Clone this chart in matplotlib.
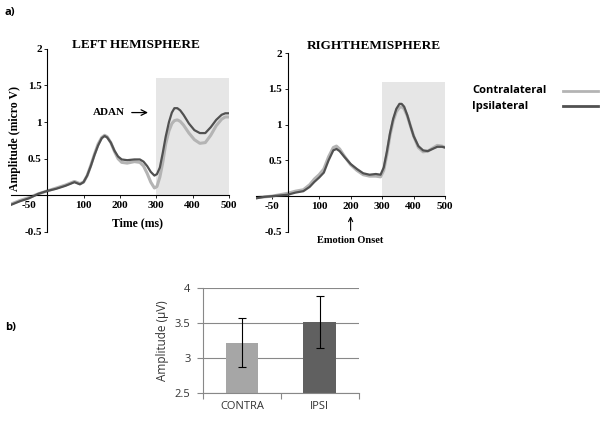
import matplotlib
matplotlib.use('Agg')
import matplotlib.pyplot as plt
from matplotlib.patches import Rectangle

# ERP data, left hemisphere
left_t = [-100, -75, -50, -25, 0, 25, 50, 75, 90, 100, 110, 120, 130, 140, 150, 158, 165, 175, 185, 195,
          205, 220, 240, 255, 265, 275, 285, 295, 302, 310, 318, 326, 335, 343, 350, 358, 366, 375, 390,
          405, 420, 435, 450, 465, 480, 490, 500]
left_ipsi = [-0.13, -0.08, -0.04, 0.02, 0.06, 0.09, 0.13, 0.18, 0.15, 0.18, 0.27, 0.40, 0.55, 0.68, 0.78,
             0.81, 0.79, 0.72, 0.61, 0.53, 0.49, 0.48, 0.49, 0.49, 0.46, 0.40, 0.32, 0.27, 0.29, 0.38, 0.58,
             0.80, 1.00, 1.13, 1.19, 1.19, 1.16, 1.10, 0.98, 0.89, 0.85, 0.85, 0.93, 1.03, 1.10, 1.12, 1.12]
left_contra = [-0.12, -0.07, -0.03, 0.02, 0.06, 0.10, 0.14, 0.19, 0.16, 0.18, 0.27, 0.41, 0.56, 0.70, 0.79,
               0.82, 0.80, 0.72, 0.60, 0.50, 0.45, 0.44, 0.46, 0.45, 0.40, 0.30, 0.18, 0.10, 0.12, 0.25, 0.45,
               0.70, 0.88, 0.98, 1.02, 1.03, 1.01, 0.96, 0.85, 0.76, 0.71, 0.72, 0.82, 0.95, 1.04, 1.07, 1.07]

# ERP data, right hemisphere
right_t = [-100, -75, -50, -25, 0, 25, 50, 70, 85, 100, 115, 130, 145, 155, 165, 180, 200, 220, 240, 260,
           280, 295, 305, 315, 325, 335, 345, 355, 362, 370, 380, 390, 400, 415, 430, 445, 460, 475, 490, 500]
right_ipsi = [-0.03, -0.01, 0.0, 0.01, 0.02, 0.05, 0.07, 0.13, 0.20, 0.26, 0.33, 0.50, 0.64, 0.66, 0.63,
              0.55, 0.45, 0.38, 0.32, 0.30, 0.31, 0.30, 0.40, 0.62, 0.88, 1.08, 1.22, 1.29, 1.29, 1.25,
              1.13, 0.98, 0.84, 0.70, 0.64, 0.63, 0.66, 0.69, 0.69, 0.68]
right_contra = [-0.02, -0.01, 0.0, 0.02, 0.04, 0.07, 0.09, 0.16, 0.24, 0.30, 0.38, 0.55, 0.68, 0.70, 0.66,
                0.56, 0.44, 0.36, 0.30, 0.28, 0.28, 0.27, 0.36, 0.58, 0.85, 1.05, 1.18, 1.24, 1.25, 1.22,
                1.12, 0.98, 0.84, 0.68, 0.62, 0.63, 0.67, 0.71, 0.70, 0.68]

x_ticks = [-50, 100, 200, 300, 400, 500]
y_ticks = [-0.5, 0.5, 1, 1.5, 2]
y_labels = ['-0.5', '0.5', '1', '1.5', '2']

# bar chart data
bar_names = ['CONTRA', 'IPSI']
bar_values = [3.22, 3.515]
bar_errors = [0.35, 0.37]

c_light = '#b4b4b4'
c_dark = '#515151'
serif = 'Liberation Serif'
sans = 'Open Sans'

fig = plt.figure(figsize=(6.04, 4.21), dpi=100)


def erp_panel(rect, t, contra, ipsi, title, title_x, title_y):
    ax = fig.add_axes(rect)
    ax.add_patch(Rectangle((300, 0), 200, 1.6, color='#e6e6e6', zorder=0, lw=0))
    ax.plot(t, contra, color=c_light, lw=2.2, zorder=2)
    ax.plot(t, ipsi, color=c_dark, lw=1.6, zorder=3)
    ax.set_xlim(-100, 500)
    ax.set_ylim(-0.5, 2)
    for s in ['top', 'right']:
        ax.spines[s].set_visible(False)
    ax.spines['left'].set_position(('data', 0))
    ax.spines['bottom'].set_position(('data', 0))
    ax.spines['left'].set_linewidth(0.8)
    ax.spines['bottom'].set_linewidth(0.8)
    ax.set_xticks(x_ticks)
    ax.set_xticklabels([str(v) for v in x_ticks], fontfamily=serif, fontweight='bold', fontsize=8)
    ax.set_yticks(y_ticks)
    ax.set_yticklabels(y_labels, fontfamily=serif, fontweight='bold', fontsize=8)
    ax.tick_params(axis='both', length=2, width=0.6, pad=2)
    ax.text(title_x, title_y, title, fontfamily=serif, fontweight='bold', fontsize=9.5,
            ha='center', va='center', clip_on=False)
    return ax


ax1 = erp_panel([0.018, 0.449, 0.361, 0.435], left_t, left_contra, left_ipsi,
                'LEFT HEMISPHERE', 245, 2.05)
ax1.annotate('', xy=(285, 1.13), xytext=(225, 1.13),
             arrowprops=dict(arrowstyle='->', color='black', lw=0.9))
ax1.text(170, 1.13, 'ADAN', fontfamily=serif, fontweight='bold', fontsize=8, ha='center', va='center')

ax2 = erp_panel([0.424, 0.449, 0.313, 0.425], right_t, right_contra, right_ipsi,
                'RIGHTHEMISPHERE', 272, 2.1)
ax2.annotate('Emotion Onset', xy=(200, -0.28), xytext=(200, -0.62),
             ha='center', va='center', fontfamily=serif, fontweight='bold', fontsize=7.5,
             arrowprops=dict(arrowstyle='->', color='black', lw=0.8, shrinkA=2, shrinkB=0),
             annotation_clip=False)

fig.text(0.025, 0.67, 'Amplitude (micro V)', rotation=90, ha='center', va='center',
         fontfamily=serif, fontweight='bold', fontsize=8.5)
fig.text(0.228, 0.47, 'Time (ms)', ha='center', va='center',
         fontfamily=serif, fontweight='bold', fontsize=8.5)

# legend
fig.text(0.782, 0.785, 'Contralateral', fontfamily=sans, fontweight='bold', fontsize=8, va='center')
fig.text(0.782, 0.748, 'Ipsilateral', fontfamily=sans, fontweight='bold', fontsize=8, va='center')
fig.lines.append(plt.Line2D([0.932, 0.99], [0.785, 0.785], color=c_light, lw=2, transform=fig.transFigure))
fig.lines.append(plt.Line2D([0.932, 0.99], [0.748, 0.748], color=c_dark, lw=2, transform=fig.transFigure))

fig.text(0.008, 0.97, 'a)', fontfamily=sans, fontweight='bold', fontsize=8, va='center')
fig.text(0.008, 0.222, 'b)', fontfamily=sans, fontweight='bold', fontsize=8, va='center')

# bar chart
ax3 = fig.add_axes([0.336, 0.0665, 0.258, 0.2495])
pos = [0.5, 1.5]
ax3.bar(pos, bar_values, width=0.42, color=['#a6a6a6', '#606060'], zorder=2)
ax3.errorbar(pos, bar_values, yerr=bar_errors, fmt='none', ecolor='black', elinewidth=0.8,
             capsize=3, capthick=0.8, zorder=3)
ax3.set_xlim(0, 2)
ax3.set_ylim(2.5, 4)
ax3.set_yticks([2.5, 3, 3.5, 4])
ax3.set_yticklabels(['2.5', '3', '3.5', '4'], fontfamily=sans, fontsize=8, color='#333333')
ax3.set_xticks([0, 1, 2])
ax3.set_xticklabels(['', '', ''])
ax3.set_xticks(pos, minor=True)
ax3.set_xticklabels(bar_names, minor=True, fontfamily=sans, fontsize=8, color='#333333')
ax3.tick_params(axis='x', which='minor', length=0, pad=6)
ax3.tick_params(axis='x', which='major', length=4, color='#888888', direction='out')
ax3.tick_params(axis='y', length=4, color='#888888', direction='out', pad=5)
ax3.grid(axis='y', color='#888888', lw=0.8, zorder=0)
for s in ['top', 'right']:
    ax3.spines[s].set_visible(False)
ax3.spines['left'].set_color('#888888')
ax3.spines['bottom'].set_color('#888888')
ax3.set_ylabel('Amplitude (\u03bcV)', fontfamily=sans, fontsize=8.5, color='#333333', labelpad=4)

fig.savefig('out.png', dpi=100)
